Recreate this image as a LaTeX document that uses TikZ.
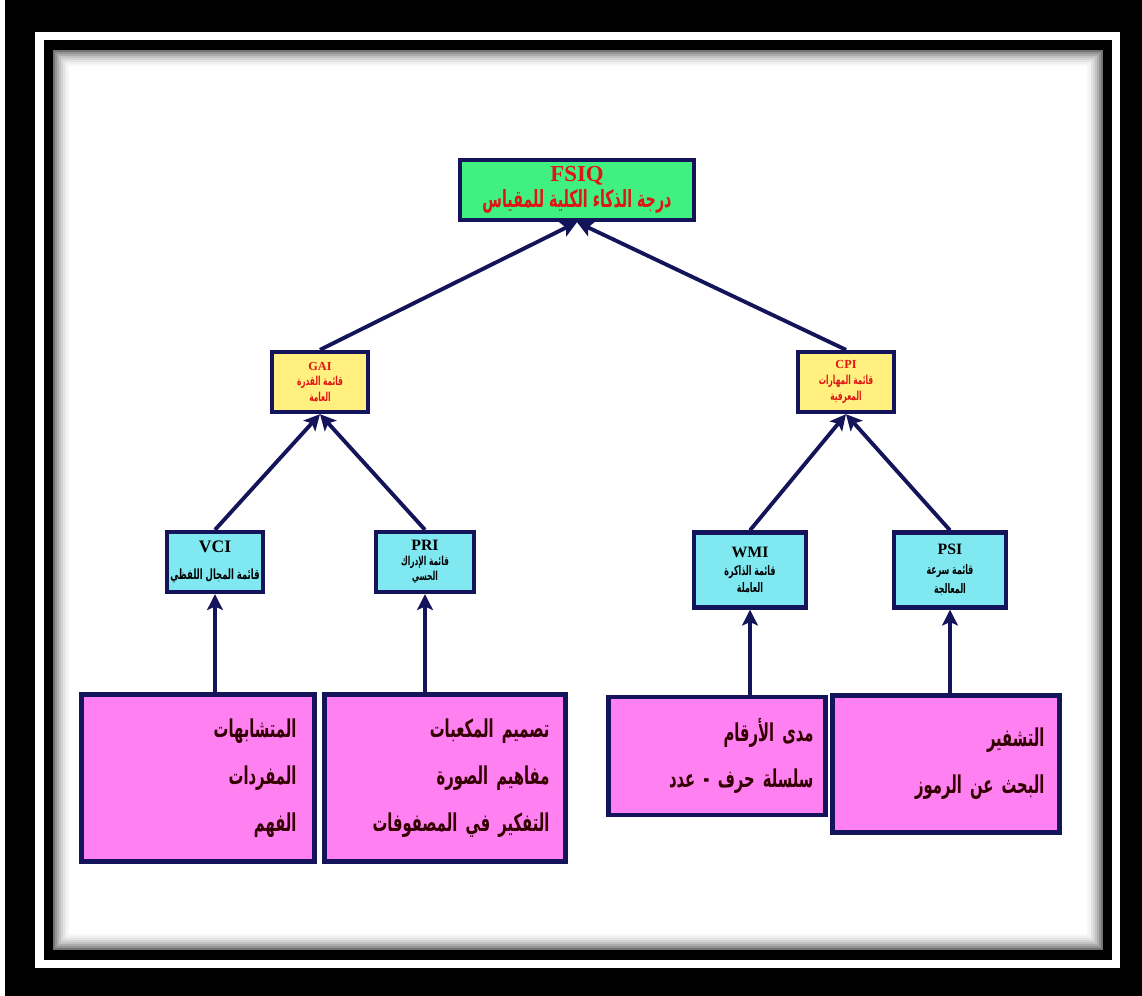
\documentclass[tikz,border=0pt]{standalone}
\usepackage{fontspec}
\usepackage{tikz}
\usetikzlibrary{arrows.meta}
\setmainfont{Liberation Serif}
\newfontfamily\arabicfont[Script=Arabic,FakeStretch=0.6]{DejaVu Sans}
\TeXXeTstate=1
\definecolor{framenavy}{RGB}{20,20,90}
\definecolor{boxgreen}{RGB}{64,240,128}
\definecolor{boxyellow}{RGB}{255,240,128}
\definecolor{boxcyan}{RGB}{128,232,240}
\definecolor{boxpink}{RGB}{255,128,240}
\definecolor{titlered}{RGB}{225,20,20}
\definecolor{darkmaroon}{RGB}{50,0,0}
\newcommand{\artxt}[1]{{\arabicfont\beginR #1\endR}}

\begin{document}
\begin{tikzpicture}
  [x=0.02cm,y=-0.02cm,
   every node/.style={draw=framenavy,line width=2.5pt,align=center,inner sep=1pt},
   link/.style={draw=framenavy,line width=2.2pt,-{Stealth[length=9pt,width=9pt,inset=2pt]}}]

  \useasboundingbox (0,0) rectangle (1142,996);
  % frame
  \fill[black] (5,0) rectangle (1142,996);
  \fill[white] (35,32) rectangle (1120,968);
  \fill[black] (44,40) rectangle (1112,960);
  \fill[white] (53,50) rectangle (1103,950);
  \foreach \i/\g in {0/55,1/42,2/32,3/24,4/17,5/11,6/6,7/3}
    \draw[black!\g,line width=1.2pt] (54+2*\i,51+2*\i) rectangle (1102-2*\i,949-2*\i);

  \node[fill=boxgreen,minimum width=4.68cm,minimum height=1.2cm,text=titlered,
        font=\bfseries\fontsize{13}{15}\selectfont] (fsiq) at (577,190)
        {FSIQ\\\artxt{\fontsize{13.5}{15}\selectfont درجة الذكاء الكلية للمقياس}};

  \node[fill=boxyellow,minimum width=1.92cm,minimum height=1.2cm,text=titlered,
        font=\bfseries\fontsize{7}{9}\selectfont] (gai) at (320,382)
        {GAI\\\artxt{قائمة القدرة}\\\artxt{العامة}};
  \node[fill=boxyellow,minimum width=1.92cm,minimum height=1.2cm,text=titlered,
        font=\bfseries\fontsize{7}{9}\selectfont] (cpi) at (846,382)
        {CPI\\\artxt{قائمة المهارات}\\\artxt{المعرفية}};

  \node[fill=boxcyan,minimum width=1.92cm,minimum height=1.2cm,
        font=\bfseries\fontsize{10}{15}\selectfont] (vci) at (215,562)
        {VCI\\\artxt{\fontsize{8}{15}\selectfont قائمة المجال اللفظي}};
  \node[fill=boxcyan,minimum width=1.96cm,minimum height=1.2cm,
        font=\bfseries\fontsize{7}{8.5}\selectfont] (pri) at (425,562)
        {{\fontsize{9}{9}\selectfont PRI}\\\artxt{قائمة الإدراك}\\\artxt{الحسي}};
  \node[fill=boxcyan,minimum width=2.24cm,minimum height=1.5cm,
        font=\bfseries\fontsize{7.5}{10}\selectfont] (wmi) at (750,570)
        {{\fontsize{9}{9}\selectfont WMI}\\\artxt{قائمة الذاكرة}\\\artxt{العاملة}};
  \node[fill=boxcyan,minimum width=2.24cm,minimum height=1.5cm,
        font=\bfseries\fontsize{7.5}{11}\selectfont] (psi) at (950,570)
        {{\fontsize{9}{9}\selectfont PSI}\\\artxt{قائمة سرعة}\\\artxt{المعالجة}};

  \node[fill=boxpink,align=right,text=darkmaroon,inner xsep=0.36cm,text width=3.94cm,
        minimum height=3.34cm,font=\bfseries\fontsize{14}{26.6}\selectfont] (b1) at (198,778)
        {\artxt{المتشابهات}\\\artxt{المفردات}\\\artxt{الفهم}};
  \node[fill=boxpink,align=right,text=darkmaroon,inner xsep=0.32cm,text width=4.18cm,
        minimum height=3.34cm,font=\bfseries\fontsize{14}{26.6}\selectfont] (b2) at (445,778)
        {\artxt{تصميم المكعبات}\\\artxt{مفاهيم الصورة}\\\artxt{التفكير في المصفوفات}};
  \node[fill=boxpink,align=right,text=darkmaroon,inner xsep=0.24cm,text width=3.86cm,
        minimum height=2.36cm,font=\bfseries\fontsize{14}{26.6}\selectfont] (b3) at (717,756)
        {\artxt{مدى الأرقام}\\\artxt{سلسلة حرف - عدد}};
  \node[fill=boxpink,align=right,text=darkmaroon,inner xsep=0.3cm,text width=3.94cm,
        minimum height=2.74cm,font=\bfseries\fontsize{14}{26.6}\selectfont] (b4) at (946,764)
        {\artxt{التشفير}\\\artxt{البحث عن الرموز}};

  \foreach \from/\to in {gai/fsiq,cpi/fsiq,vci/gai,pri/gai,wmi/cpi,psi/cpi}
    \draw[link] (\from.north) -- (\to.south);
  \foreach \from/\to in {b1/vci,b2/pri,b3/wmi,b4/psi}
    \draw[link] (\from.north -| \to.south) -- (\to.south);
\end{tikzpicture}
\end{document}
